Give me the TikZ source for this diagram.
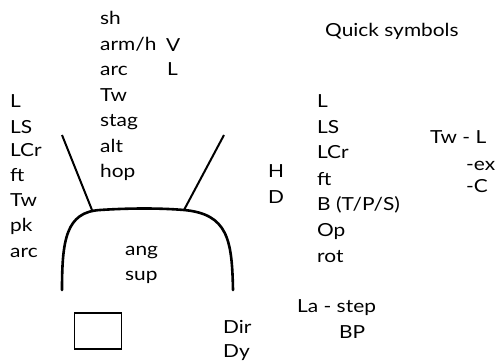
\documentclass[tikz,border=0pt]{standalone}
\usepackage{fontspec}
\setmainfont[FakeStretch=1.16]{Lato}
\begin{document}
\begin{tikzpicture}[x=1pt,y=-1pt,
  lbl/.style={anchor=base west,inner sep=0pt,font=\fontsize{18}{20}\selectfont},
  thick line/.style={line width=2.6pt,line cap=round,line join=round},
  thin line/.style={line width=2pt}]
\useasboundingbox (0,0) rectangle (496,361);
% top column
\node[lbl] (t1) at (100,25) {sh};
\node[lbl] (t2) at (100,51) {arm/h};
\node[lbl] (t3) at (100,76) {arc};
\node[lbl] (t4) at (100,102) {Tw};
\node[lbl] (t5) at (100,127) {stag};
\node[lbl] (t6) at (100,153) {alt};
\node[lbl] (t7) at (100,178) {hop};
\node[lbl] (v) at (166,52) {V};
\node[lbl] (l2) at (167,76) {L};
% left column
\node[lbl] (a1) at (10,108) {L};
\node[lbl] (a2) at (10,133) {LS};
\node[lbl] (a3) at (10,157) {LCr};
\node[lbl] (a4) at (10,182) {ft};
\node[lbl] (a5) at (10,206) {Tw};
\node[lbl] (a6) at (10,231) {pk};
\node[lbl] (a7) at (10,257) {arc};
% inside
\node[lbl] (ang) at (125,255) {ang};
\node[lbl] (sup) at (125,280) {sup};
% right
\node[lbl] (qs) at (325,37) {Quick symbols};
\node[lbl] (r1) at (317,107) {L};
\node[lbl] (r2) at (317,133) {LS};
\node[lbl] (r3) at (317,158) {LCr};
\node[lbl] (r4) at (317,185) {ft};
\node[lbl] (r5) at (317,211) {B (T/P/S)};
\node[lbl] (r6) at (317,236) {Op};
\node[lbl] (r7) at (317,262) {rot};
\node[lbl] (h) at (268,178) {H};
\node[lbl] (d) at (268,203) {D};
\node[lbl] (twl) at (430,143) {Tw - L};
\node[lbl] (ex) at (466,170) {-ex};
\node[lbl] (c) at (466,193) {-C};
\node[lbl] (la) at (297,312) {La - step};
\node[lbl] (bp) at (339,338) {BP};
\node[lbl] (dir) at (223,333) {Dir};
\node[lbl] (dy) at (223,357) {Dy};
% drawing
\coordinate (ltop) at (62,135);
\coordinate (lbot) at (92,210);
\coordinate (rtop) at (224,135);
\coordinate (rbot) at (184,210);
\draw[thin line] (ltop) -- (lbot);
\draw[thin line] (rtop) -- (rbot);
\draw[thick line] (62,290) .. controls (62,240) and (66,212) .. (100,210)
  .. controls (130,208) and (160,208) .. (184,210)
  .. controls (228,214) and (232,240) .. (233,290);
\node[draw,line width=1.8pt,minimum width=47pt,minimum height=36pt,inner sep=0pt] (box) at (98,331) {};
\end{tikzpicture}
\end{document}
